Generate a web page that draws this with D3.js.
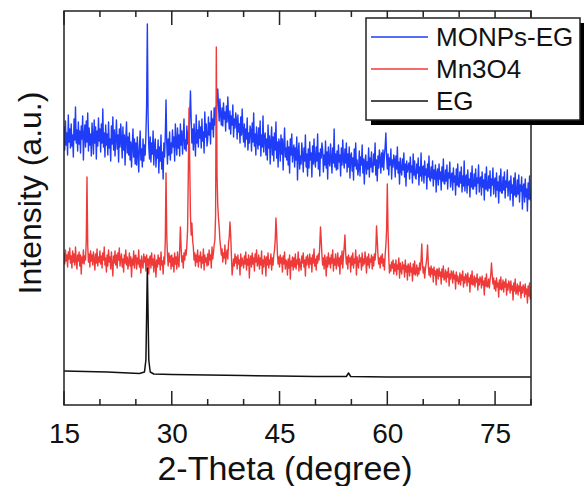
<!DOCTYPE html>
<html>
<head>
<meta charset="utf-8">
<script src="https://cdn.jsdelivr.net/npm/d3@7"></script>
<style>
  body { margin: 0; background: #fff; }
  text { font-family: "Liberation Sans", Arial, sans-serif; fill: #111; }
</style>
</head>
<body>
<div id="xrd"></div>
<script>

// 2-theta sampling grid used by the two noisy patterns (15 to 80, step 0.1)
var thetaStart = 15, thetaStep = 0.1;

// MONPs-EG intensities (a.u.), one row per degree
var monpsEG = [
  279, 255, 284, 260, 272, 250, 290, 263, 276, 257,  // 15
  281, 259, 270, 248, 286, 265, 298, 262, 275, 254,  // 16
  283, 261, 274, 252, 279, 266, 289, 245, 270, 280,  // 17
  258, 284, 263, 292, 254, 277, 260, 271, 249, 282,  // 18
  268, 251, 285, 262, 278, 246, 274, 259, 287, 264,  // 19
  276, 253, 281, 262, 296, 258, 272, 248, 280, 260,  // 20
  271, 250, 283, 257, 266, 244, 279, 261, 288, 255,  // 21
  275, 249, 267, 285, 256, 270, 243, 276, 258, 281,  // 22
  264, 247, 278, 255, 270, 240, 266, 283, 252, 268,  // 23
  250, 272, 245, 263, 238, 259, 276, 248, 266, 241,  // 24
  262, 240, 268, 251, 233, 259, 274, 245, 256, 238,  // 25
  266, 244, 260, 250, 270, 300, 381, 290, 258, 246,  // 26
  268, 243, 262, 251, 274, 240, 259, 266, 238, 255,  // 27
  247, 265, 232, 258, 244, 270, 236, 253, 226, 262,  // 28
  248, 270, 305, 262, 241, 266, 250, 273, 245, 262,  // 29
  252, 275, 258, 268, 244, 281, 263, 250, 277, 257,  // 30
  270, 249, 281, 260, 274, 251, 268, 286, 256, 265,  // 31
  254, 279, 261, 273, 268, 290, 314, 285, 262, 276,  // 32
  255, 281, 266, 249, 290, 262, 275, 258, 284, 267,  // 33
  278, 257, 286, 264, 273, 252, 293, 268, 281, 259,  // 34
  265, 288, 270, 282, 261, 294, 276, 286, 268, 297,  // 35
  280, 298, 287, 305, 316, 300, 284, 306, 290, 280,  // 36
  297, 279, 302, 286, 293, 274, 299, 283, 308, 288,  // 37
  276, 294, 271, 289, 280, 300, 268, 286, 277, 292,  // 38
  285, 266, 290, 273, 281, 262, 288, 270, 296, 274,  // 39
  263, 281, 258, 276, 266, 287, 255, 272, 262, 279,  // 40
  275, 254, 282, 263, 292, 259, 271, 250, 278, 265,  // 41
  256, 277, 260, 284, 249, 270, 258, 289, 253, 268,  // 42
  272, 250, 266, 245, 280, 257, 269, 241, 263, 278,  // 43
  250, 268, 244, 272, 255, 283, 247, 263, 238, 266,  // 44
  262, 244, 270, 251, 266, 235, 259, 277, 248, 257,  // 45
  245, 264, 240, 258, 232, 266, 250, 271, 243, 255,  // 46
  260, 238, 257, 245, 268, 225, 252, 262, 236, 249,  // 47
  241, 262, 250, 233, 257, 244, 270, 238, 251, 229,  // 48
  256, 237, 263, 245, 252, 228, 259, 241, 266, 244,  // 49
  238, 258, 244, 271, 236, 252, 229, 256, 247, 262,  // 50
  255, 233, 250, 240, 264, 237, 253, 226, 258, 243,  // 51
  239, 261, 246, 232, 257, 242, 276, 238, 251, 235,  // 52
  254, 236, 260, 243, 250, 229, 257, 240, 265, 245,  // 53
  237, 256, 242, 262, 233, 251, 238, 258, 227, 249,  // 54
  252, 234, 247, 225, 256, 239, 262, 236, 245, 230,  // 55
  236, 254, 229, 248, 240, 260, 232, 246, 221, 244,  // 56
  250, 231, 243, 236, 257, 228, 247, 238, 253, 233,  // 57
  233, 251, 240, 262, 230, 245, 224, 249, 237, 255,  // 58
  246, 232, 252, 238, 255, 235, 250, 258, 272, 248,  // 59
  236, 251, 230, 247, 240, 256, 226, 245, 238, 250,  // 60
  245, 228, 249, 236, 258, 232, 243, 221, 247, 235,  // 61
  230, 246, 235, 252, 228, 241, 219, 244, 233, 238,  // 62
  242, 226, 248, 233, 239, 222, 251, 230, 244, 228,  // 63
  226, 241, 232, 247, 220, 238, 229, 252, 224, 237,  // 64
  239, 222, 244, 230, 236, 216, 241, 228, 249, 226,  // 65
  224, 238, 227, 244, 219, 235, 226, 240, 213, 232,  // 66
  236, 220, 241, 226, 233, 215, 238, 224, 246, 222,  // 67
  221, 235, 224, 240, 216, 232, 227, 243, 218, 230,  // 68
  232, 215, 237, 223, 229, 210, 236, 220, 241, 219,  // 69
  218, 233, 222, 238, 213, 229, 219, 244, 214, 227,  // 70
  230, 212, 235, 220, 226, 208, 232, 218, 239, 216,  // 71
  216, 231, 219, 236, 211, 227, 222, 240, 213, 226,  // 72
  228, 210, 233, 218, 225, 205, 231, 216, 238, 215,  // 73
  214, 229, 217, 234, 209, 226, 220, 237, 211, 224,  // 74
  227, 208, 232, 215, 223, 202, 229, 214, 236, 212,  // 75
  212, 228, 215, 233, 207, 224, 218, 235, 209, 222,  // 76
  224, 205, 229, 212, 220, 199, 227, 210, 232, 208,  // 77
  209, 225, 211, 230, 203, 220, 214, 228, 196, 218,  // 78
  221, 203, 226, 208, 216, 194, 222, 206, 229, 205,  // 79
  212                                                // 80
];

// Mn3O4 intensities (a.u.), same grid
var mn3o4 = [
  152, 141, 155, 144, 150, 138, 153, 146, 157, 142,  // 15
  149, 137, 154, 143, 151, 140, 158, 145, 136, 150,  // 16
  144, 153, 139, 150, 131, 148, 142, 155, 141, 149,  // 17
  145, 165, 228, 160, 143, 151, 138, 154, 144, 150,  // 18
  140, 153, 146, 135, 151, 142, 156, 139, 148, 143,  // 19
  154, 141, 149, 137, 152, 145, 158, 140, 147, 133,  // 20
  150, 139, 155, 143, 148, 136, 153, 141, 129, 149,  // 21
  142, 154, 140, 150, 137, 152, 145, 157, 139, 147,  // 22
  151, 138, 146, 133, 150, 142, 155, 140, 148, 136,  // 23
  143, 152, 139, 148, 128, 146, 140, 154, 137, 149,  // 24
  150, 136, 147, 141, 155, 138, 145, 132, 149, 140,  // 25
  137, 151, 143, 148, 134, 150, 139, 146, 131, 147,  // 26
  149, 137, 152, 140, 146, 133, 150, 142, 128, 145,  // 27
  138, 150, 141, 147, 135, 153, 140, 144, 131, 148,  // 28
  141, 165, 232, 170, 150, 139, 152, 143, 149, 136,  // 29
  150, 139, 147, 133, 152, 141, 148, 136, 153, 142,  // 30
  138, 155, 178, 158, 143, 149, 137, 152, 145, 155,  // 31
  150, 160, 175, 230, 297, 240, 190, 170, 182, 165,  // 32
  158, 145, 152, 139, 150, 143, 155, 138, 149, 144,  // 33
  153, 137, 148, 142, 156, 135, 150, 143, 147, 139,  // 34
  151, 140, 155, 145, 150, 137, 158, 146, 152, 160,  // 35
  165, 190, 358, 230, 200, 187, 178, 165, 158, 150,  // 36
  156, 143, 152, 147, 160, 141, 151, 155, 146, 162,  // 37
  168, 183, 170, 150, 130, 138, 146, 139, 151, 142,  // 38
  148, 136, 150, 141, 145, 130, 151, 139, 147, 142,  // 39
  137, 149, 141, 153, 135, 146, 140, 150, 127, 145,  // 40
  149, 138, 152, 141, 147, 134, 151, 143, 155, 139,  // 41
  142, 150, 136, 147, 140, 154, 131, 145, 138, 149,  // 42
  146, 129, 148, 140, 152, 137, 145, 141, 151, 135,  // 43
  147, 140, 150, 155, 165, 187, 172, 152, 141, 148,  // 44
  138, 150, 142, 147, 133, 149, 141, 153, 136, 145,  // 45
  143, 130, 146, 137, 150, 126, 144, 139, 148, 135,  // 46
  147, 138, 151, 136, 145, 141, 153, 134, 146, 140,  // 47
  135, 149, 142, 152, 138, 145, 129, 148, 140, 150,  // 48
  144, 137, 151, 141, 147, 133, 150, 142, 156, 139,  // 49
  146, 135, 149, 142, 151, 145, 160, 178, 165, 150,  // 50
  140, 147, 136, 150, 143, 129, 148, 138, 152, 141,  // 51
  147, 137, 150, 142, 155, 134, 146, 140, 151, 136,  // 52
  143, 152, 139, 147, 131, 149, 141, 154, 137, 150,  // 53
  158, 170, 152, 141, 148, 136, 150, 143, 147, 133,  // 54
  149, 140, 152, 137, 146, 142, 155, 130, 148, 141,  // 55
  137, 150, 143, 147, 135, 152, 139, 146, 141, 153,  // 56
  145, 132, 148, 140, 151, 137, 146, 143, 150, 136,  // 57
  148, 139, 151, 145, 155, 179, 165, 150, 141, 147,  // 58
  137, 149, 142, 151, 139, 146, 135, 150, 160, 175,  // 59
  221, 175, 148, 132, 140, 134, 143, 137, 145, 131,  // 60
  141, 134, 145, 130, 140, 136, 147, 127, 142, 135,  // 61
  131, 143, 136, 140, 128, 145, 133, 139, 125, 141,  // 62
  138, 129, 142, 133, 137, 124, 141, 131, 144, 130,  // 63
  133, 140, 129, 137, 131, 142, 135, 145, 161, 140,  // 64
  132, 138, 127, 136, 141, 147, 160, 142, 130, 137,  // 65
  128, 139, 131, 136, 123, 138, 130, 134, 120, 136,  // 66
  135, 126, 137, 129, 133, 121, 136, 128, 139, 125,  // 67
  127, 135, 123, 133, 128, 137, 119, 131, 126, 134,  // 68
  131, 122, 134, 126, 130, 116, 133, 124, 129, 121,  // 69
  124, 132, 120, 130, 125, 134, 118, 128, 122, 131,  // 70
  129, 119, 132, 123, 127, 113, 130, 121, 134, 120,  // 71
  121, 129, 118, 127, 123, 131, 115, 126, 120, 128,  // 72
  126, 117, 129, 120, 124, 110, 127, 119, 131, 118,  // 73
  119, 126, 117, 125, 130, 142, 131, 121, 127, 116,  // 74
  124, 114, 127, 118, 122, 108, 125, 116, 128, 115,  // 75
  117, 125, 113, 123, 118, 126, 110, 121, 115, 124,  // 76
  121, 112, 124, 115, 119, 105, 122, 114, 126, 111,  // 77
  113, 121, 110, 119, 114, 123, 107, 118, 112, 120,  // 78
  118, 108, 121, 111, 116, 102, 119, 109, 122, 106,  // 79
  110                                                // 80
];

// EG pattern is smooth, so it is kept as explicit (2-theta, intensity) points
var egTheta     = [15, 18, 21, 24, 25.5, 26.2, 26.4, 26.5, 26.6, 26.7, 26.8, 27.0, 27.5, 30, 35, 40, 45, 50, 54.3, 54.6, 54.9, 60, 70, 80];
var egIntensity = [34, 33.5, 33, 32, 31.5, 33, 45, 90, 137, 90, 45, 33, 31, 30.5, 30, 29.5, 29, 28.5, 28.5, 32, 28.5, 28, 28, 28];

var seriesNames  = ["MONPs-EG", "Mn3O4", "EG"];
var seriesColors = ["#1f3cf8", "#ef3a3a", "#111111"];
var xMajorTicks  = [15, 30, 45, 60, 75];

var margin = {top: 11, right: 53, bottom: 81, left: 64},
    width = 584 - margin.left - margin.right,
    height = 486 - margin.top - margin.bottom;

var svgRoot = d3.select("#xrd")
  .append("svg")
    .attr("width", 584)
    .attr("height", 486);
var svg = svgRoot.append("g")
    .attr("transform", "translate(" + margin.left + "," + margin.top + ")");

var x = d3.scaleLinear().domain([15, 80]).range([0, width]);
var y = d3.scaleLinear().domain([0, height]).range([height, 0]);

function gridPoints(vals) {
  return vals.map(function(v, i) { return [thetaStart + i * thetaStep, v]; });
}

var line = d3.line()
  .x(function(d) { return x(d[0]); })
  .y(function(d) { return y(d[1]); });

var patterns = [
  gridPoints(monpsEG),
  gridPoints(mn3o4),
  egTheta.map(function(t, i) { return [t, egIntensity[i]]; })
];

svg.append("defs").append("clipPath").attr("id", "plotclip")
  .append("rect").attr("width", width).attr("height", height);

svg.append("g").attr("clip-path", "url(#plotclip)")
  .selectAll("path")
  .data(patterns)
  .enter()
  .append("path")
    .attr("d", line)
    .attr("fill", "none")
    .attr("stroke", function(d, i) { return seriesColors[i]; })
    .attr("stroke-width", function(d, i) { return i == 2 ? 1.5 : 1.4; })
    .attr("stroke-linejoin", "round");

// x axis, ticks inward, mirrored on top
var minorTicks = d3.range(15, 81, 5);
function xAxis(g, top) {
  var dir = top ? 1 : -1;
  g.selectAll("line.tk")
    .data(minorTicks)
    .enter()
    .append("line")
      .attr("class", "tk")
      .attr("x1", function(d) { return x(d); })
      .attr("x2", function(d) { return x(d); })
      .attr("y1", 0)
      .attr("y2", function(d) { return dir * (xMajorTicks.indexOf(d) >= 0 ? 14 : 6); })
      .attr("stroke", "#222")
      .attr("stroke-width", 1.5);
}
svg.append("g").attr("transform", "translate(0," + height + ")").call(xAxis, false);
svg.append("g").call(xAxis, true);

svg.append("g")
  .attr("transform", "translate(0," + height + ")")
  .call(d3.axisBottom(x).tickValues(xMajorTicks).tickSize(0).tickPadding(18))
  .call(function(g) { g.select(".domain").remove(); })
  .selectAll("text")
    .style("font-size", "28px")
    .attr("fill", "#111");

// frame
svg.append("rect")
  .attr("width", width)
  .attr("height", height)
  .attr("fill", "none")
  .attr("stroke", "#222")
  .attr("stroke-width", 1.5);

svg.append("text")
  .attr("x", 221)
  .attr("y", height + 75)
  .style("text-anchor", "middle")
  .style("font-size", "34px")
  .text("2-Theta (degree)");

svg.append("text")
  .attr("transform", "rotate(-90)")
  .attr("x", -182)
  .attr("y", -23)
  .style("text-anchor", "middle")
  .style("font-size", "32px")
  .text("Intensity (a.u.)");

// legend with drop shadow
var legend = svgRoot.append("g").attr("transform", "translate(366,18)");
legend.append("rect")
  .attr("x", 5).attr("y", 5)
  .attr("width", 214).attr("height", 102)
  .attr("fill", "#000");
legend.append("rect")
  .attr("width", 214).attr("height", 102)
  .attr("fill", "#fff")
  .attr("stroke", "#222")
  .attr("stroke-width", 1.5);
var rows = legend.selectAll("g.row")
  .data(seriesNames)
  .enter()
  .append("g")
    .attr("transform", function(d, i) { return "translate(0," + (19 + i * 32) + ")"; });
rows.append("line")
  .attr("x1", 5).attr("x2", 62)
  .attr("stroke", function(d, i) { return seriesColors[i]; })
  .attr("stroke-width", 1.5);
rows.append("text")
  .attr("x", 70)
  .attr("dy", "0.36em")
  .style("font-size", "26px")
  .text(function(d) { return d; });

</script>
</body>
</html>
